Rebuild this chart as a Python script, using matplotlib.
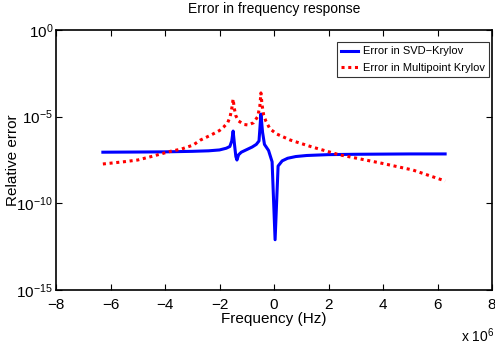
import matplotlib
matplotlib.use('Agg')
import matplotlib.pyplot as plt
import numpy as np

plt.rcParams['font.family'] = ['Liberation Sans', 'DejaVu Sans']
plt.rcParams['mathtext.fontset'] = 'custom'
plt.rcParams['mathtext.rm'] = 'Liberation Sans'
plt.rcParams['mathtext.it'] = 'Liberation Sans:italic'
plt.rcParams['mathtext.bf'] = 'Liberation Sans:bold'

# frequency (x 1e6 Hz) and log10 of the relative error
svd_freq = [-6.28, -5, -4, -3, -2.4, -2, -1.75, -1.62, -1.55, -1.5, -1.45, -1.4, -1.36,
            -1.3, -1.2, -1.0, -0.8, -0.65, -0.55, -0.48, -0.42, -0.35, -0.2, -0.07,
            0.04, 0.15, 0.3, 0.5, 0.8, 1.2, 2, 3, 4, 5, 6.28]
svd_log = [-7.05, -7.04, -7.03, -7.0, -6.97, -6.92, -6.82, -6.72, -6.4, -5.83, -6.6, -7.3, -7.5,
           -7.2, -7.05, -6.9, -6.75, -6.6, -6.4, -4.85, -5.9, -6.6, -6.95, -7.6,
           -12.1, -7.85, -7.55, -7.4, -7.3, -7.24, -7.19, -7.17, -7.16, -7.15, -7.15]

mp_freq = [-6.28, -5.5, -5, -4.5, -3.8, -3.4, -2.97, -2.7, -2.3, -2.0, -1.85, -1.7, -1.61,
           -1.54, -1.5, -1.46, -1.4, -1.3, -1.1, -0.95, -0.75, -0.6, -0.52, -0.48, -0.44,
           -0.38, -0.3, -0.15, 0.1, 0.6, 1.4, 2.4, 3.9, 5.1, 6.28]
mp_log = [-7.73, -7.6, -7.5, -7.3, -7.0, -6.87, -6.64, -6.35, -6.05, -5.8, -5.6, -5.35, -5.0,
          -4.44, -3.98, -4.5, -4.95, -5.25, -5.45, -5.48, -5.35, -5.0, -4.4, -3.63, -4.3,
          -4.9, -5.25, -5.7, -6.0, -6.35, -6.75, -7.2, -7.67, -8.08, -8.71]

fig = plt.figure(figsize=(4.95, 3.47), dpi=100)
ax = fig.add_axes([56/495, 1 - 290/347, 436/495, 260/347])

ax.semilogy(svd_freq, 10 ** np.array(svd_log), color='#0000ff', linewidth=2.2,
            label='Error in SVD\u2212Krylov')
ax.semilogy(mp_freq, 10 ** np.array(mp_log), color='#ff0000', linewidth=2.2,
            linestyle=(0, (1, 1.2)), label='Error in Multipoint Krylov')

ax.set_xlim(-8, 8)
ax.set_ylim(1e-15, 1e0)
ax.set_yticks([1e-15, 1e-10, 1e-5, 1e0])
ax.set_yticklabels(['$10^{-15}$', '$10^{-10}$', '$10^{-5}$', '$10^{0}$'])
ax.minorticks_off()
ax.set_xticks(np.arange(-8, 9, 2))
ax.set_xticklabels(['\u22128', '\u22126', '\u22124', '\u22122', '0', '2', '4', '6', '8'])
ax.tick_params(direction='in', length=4, width=0.8, labelsize=11, top=True, right=True)
ax.tick_params(axis='x', pad=6)
ax.tick_params(axis='y', pad=2)
for sp in ax.spines.values():
    sp.set_linewidth(1.2)

ax.set_title('Error in frequency response', fontsize=10, pad=12)
ax.set_xlabel('Frequency (Hz)', fontsize=11, labelpad=0)
ax.set_ylabel('Relative error', fontsize=11)
ax.yaxis.set_label_coords(-36/436, 0.5)
fig.text(461/495, 1 - 336/347, r'x $10^6$', fontsize=10, ha='left', va='center')

leg = ax.legend(loc='upper right', fontsize=8, fancybox=False, edgecolor='black',
                handlelength=1.5, handletextpad=0.4, borderpad=0.4, labelspacing=0.55,
                borderaxespad=0, bbox_to_anchor=(0.993, 0.954))
leg.get_frame().set_linewidth(0.8)

fig.savefig('out.png', dpi=100)
